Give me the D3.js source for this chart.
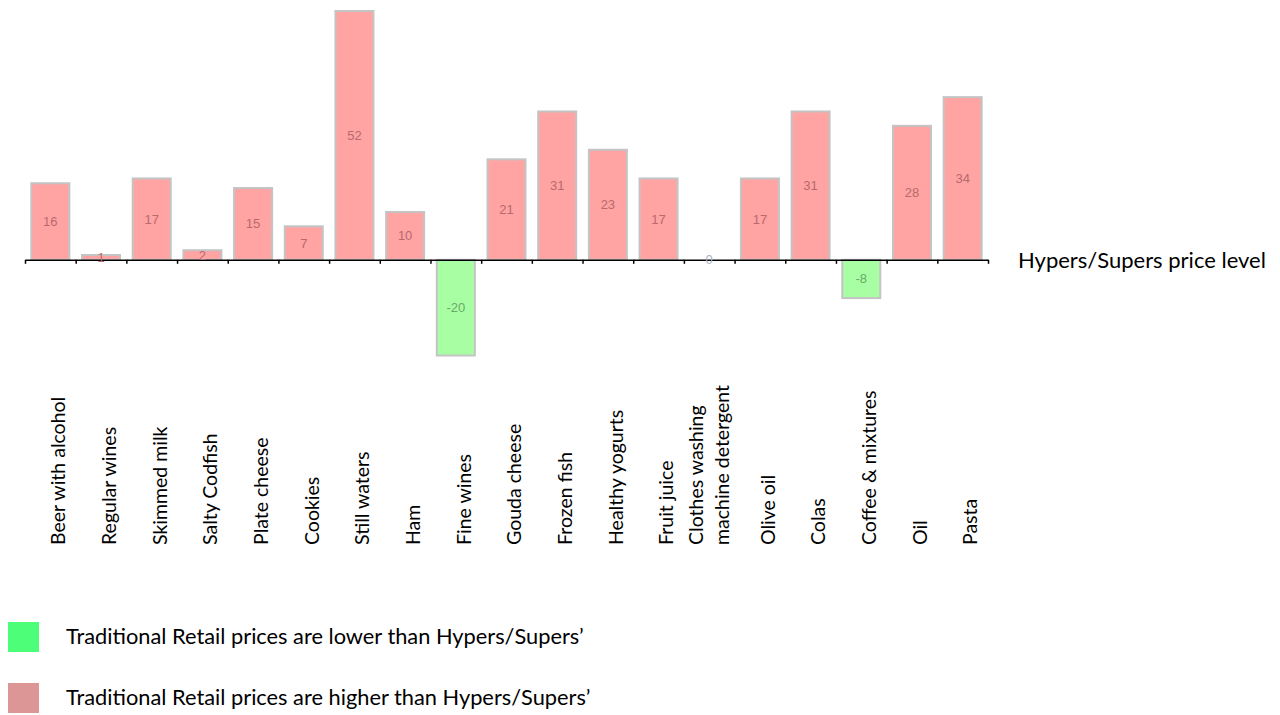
<!DOCTYPE html>
<html>
<head>
<meta charset="utf-8">
<script src="https://cdn.jsdelivr.net/npm/d3@7"></script>
<style>
  html, body { margin: 0; padding: 0; background: #fff; }
  svg { display: block; }
</style>
</head>
<body>
<svg id="chart" width="1280" height="715"></svg>
<script>
// Price gap of Traditional Retail vs Hypers/Supers, by product
const categories = [
  ["Beer with alcohol"], ["Regular wines"], ["Skimmed milk"], ["Salty Codfish"],
  ["Plate cheese"], ["Cookies"], ["Still waters"], ["Ham"], ["Fine wines"],
  ["Gouda cheese"], ["Frozen fish"], ["Healthy yogurts"], ["Fruit juice"],
  ["Clothes washing", "machine detergent"], ["Olive oil"], ["Colas"],
  ["Coffee & mixtures"], ["Oil"], ["Pasta"]
];
const values = [16, 1, 17, 2, 15, 7, 52, 10, -20, 21, 31, 23, 17, 0, 17, 31, -8, 28, 34];
const axisTitle = "Hypers/Supers price level";
const legendItems = [
  { text: "Traditional Retail prices are lower than Hypers/Supers\u2019", color: "#4dff78" },
  { text: "Traditional Retail prices are higher than Hypers/Supers\u2019", color: "#dc9696" }
];

const svg = d3.select("#chart");
const font = "Lato, 'Open Sans', sans-serif";
const labelFont = "'Liberation Sans', Arial, sans-serif";

const keys = d3.range(categories.length);
const x = d3.scaleBand().domain(keys).range([25, 988]).paddingInner(0.25).paddingOuter(0.125);
const y = d3.scaleLinear().domain([-20, 52]).range([355.5, 11]);
const xIdx = d3.scaleLinear().domain([0, categories.length]).range([25, 988]);

// Bars
const bars = svg.append("g");
bars.selectAll("rect").data(values).join("rect")
  .attr("x", (d, i) => x(i))
  .attr("width", x.bandwidth())
  .attr("y", d => y(Math.max(0, d)))
  .attr("height", d => Math.abs(y(d) - y(0)))
  .attr("fill", d => d < 0 ? "#a8ffa3" : "#ffa3a3")
  .attr("stroke", d => d === 0 ? "#666" : "#c4c4c4")
  .attr("stroke-width", d => d === 0 ? 1 : 2);

// Axis along zero
const axis = d3.axisBottom(xIdx).tickValues(d3.range(categories.length + 1))
  .tickFormat("").tickSize(4).tickSizeOuter(0);
const ag = svg.append("g").attr("transform", `translate(0,${y(0)})`).call(axis);
ag.select(".domain").attr("stroke", "#000").attr("stroke-width", 1.5);
ag.selectAll(".tick line").attr("stroke", "#000").attr("stroke-width", 1.5);

// Value labels in the middle of each bar
svg.append("g").selectAll("text").data(values).join("text")
  .attr("x", (d, i) => x(i) + x.bandwidth() / 2)
  .attr("y", d => (y(d) + y(0)) / 2)
  .attr("text-anchor", "middle")
  .attr("dominant-baseline", "central")
  .attr("font-family", labelFont)
  .attr("font-size", 13)
  .attr("fill", d => d < 0 ? "#6aa86a" : d === 0 ? "#a8b0c8" : "#b86a6e")
  .text(d => d);

// Category labels, rotated; single lines sit a little right of the band centre
const cl = svg.append("g").selectAll("text").data(categories).join("text")
  .attr("transform", (d, i) => `translate(${x(i) + x.bandwidth() / 2 + (d.length > 1 ? 0 : 8)},545) rotate(-90)`)
  .attr("text-anchor", "start")
  .attr("font-family", font)
  .attr("font-size", 19.5)
  .attr("fill", "#000");
cl.each(function (lines) {
  const t = d3.select(this);
  const n = lines.length;
  lines.forEach((ln, k) => {
    t.append("tspan")
      .attr("x", 0)
      .attr("y", (k - (n - 1) / 2) * 26)
      .attr("dy", "0.35em")
      .text(ln);
  });
});

// Axis title
svg.append("text")
  .attr("x", 1018).attr("y", 259)
  .attr("dominant-baseline", "central")
  .attr("font-family", font)
  .attr("font-size", 22)
  .attr("fill", "#000")
  .text(axisTitle);

// Legend
const lg = svg.append("g").selectAll("g").data(legendItems).join("g")
  .attr("transform", (d, i) => `translate(8,${622 + i * 61})`);
lg.append("rect").attr("width", 31).attr("height", 30).attr("fill", d => d.color);
lg.append("text")
  .attr("x", 58).attr("y", 22)
  .attr("font-family", font)
  .attr("font-size", 21.8)
  .attr("fill", "#000")
  .text(d => d.text);
</script>
</body>
</html>
